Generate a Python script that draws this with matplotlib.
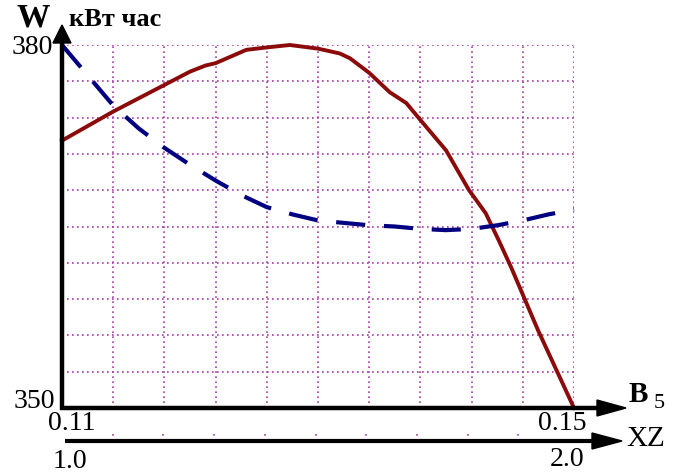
import matplotlib
matplotlib.use("Agg")
import matplotlib.pyplot as plt
from matplotlib.lines import Line2D
from matplotlib.patches import Polygon
import numpy as np

# B5 values and the two curves
b5_red = [0.1100, 0.1120, 0.1140, 0.1160, 0.1180, 0.1200, 0.1212, 0.1220, 0.1244,
          0.1260, 0.1278, 0.1300, 0.1317, 0.1325, 0.1340, 0.1356, 0.1369, 0.1380,
          0.1400, 0.1418, 0.1431, 0.1441, 0.1451, 0.1472, 0.1500]
w_red = [372.1, 373.3, 374.5, 375.6, 376.7, 377.8, 378.3, 378.5, 379.6,
         379.8, 380.0, 379.7, 379.3, 378.9, 377.7, 376.1, 375.2, 373.8,
         371.3, 368.0, 366.1, 363.9, 361.6, 356.4, 350.0]

b5_blue = [0.110, 0.112, 0.114, 0.116, 0.118, 0.120, 0.122, 0.124, 0.126, 0.128, 0.130,
           0.132, 0.134, 0.136, 0.138, 0.140, 0.142, 0.144, 0.146, 0.148, 0.150]
w_blue = [380.0, 377.5, 375.0, 373.1, 371.5, 370.1, 368.8, 367.6, 366.6, 366.0, 365.5,
          365.3, 365.1, 365.0, 364.8, 364.7, 364.8, 365.1, 365.5, 366.0, 366.4]

W, H = 673, 472
plt.rcParams['font.family'] = ['Liberation Serif', 'DejaVu Serif']

fig = plt.figure(figsize=(W / 100, H / 100), dpi=100)
x0, x1, ytop, ybot = 62, 574, 45, 408
ax = fig.add_axes([x0 / W, 1 - ybot / H, (x1 - x0) / W, (ybot - ytop) / H])
ax.set_xlim(0.11, 0.15)
ax.set_ylim(350, 380)
ax.axis('off')

grid_c = '#a83ca8'
for gx in np.linspace(0.11, 0.15, 11)[1:]:
    ax.axvline(gx, color=grid_c, lw=1.2, ls=(0, (1, 2)), zorder=1)
for gy in np.linspace(350, 380, 11)[1:]:
    ax.axhline(gy, color=grid_c, lw=1.2, ls=(0, (1, 2)), zorder=1)

ax.plot(b5_red, w_red, color='#8b0a0a', lw=2.8, zorder=3, clip_on=False)
ax.plot(b5_blue, w_blue, color='#000080', lw=3.0, ls=(0, (7, 4.5)), zorder=3, clip_on=False)


def P(x, y):
    return (x / W, 1 - y / H)


def fline(xa, ya, xb, yb, lw=3.2):
    (fx0, fy0), (fx1, fy1) = P(xa, ya), P(xb, yb)
    fig.add_artist(Line2D([fx0, fx1], [fy0, fy1], color='black', lw=lw,
                          transform=fig.transFigure, solid_capstyle='butt'))


def fhead(pts):
    fig.add_artist(Polygon([P(*p) for p in pts], closed=True, color='black',
                           transform=fig.transFigure))


# y axis with arrow
fline(62, 410, 62, 38)
fhead([(62, 25), (53, 43), (71, 43)])
# B5 axis
fline(60, 408, 600, 408)
fhead([(626, 408), (597, 400), (597, 416)])
# XZ axis
fline(65, 441, 595, 441, lw=3.0)
fhead([(622, 441), (592, 433), (592, 449)])
for k in range(1, 10):
    xt = 62 + k * (569 - 62) / 10
    fig.add_artist(Line2D([P(xt, 0)[0]] * 2, [P(0, 434)[1], P(0, 438)[1]],
                          color=grid_c, lw=1.2, ls=(0, (1, 1.5)), transform=fig.transFigure))

fs = 20
fig.text(*P(32, 47), '380', fontsize=fs, ha='center', va='center')
fig.text(*P(34, 402), '350', fontsize=fs, ha='center', va='center')
fig.text(*P(72, 423), '0.11', fontsize=fs, ha='center', va='center')
fig.text(*P(70, 461), '1.0', fontsize=fs, ha='center', va='center')
fig.text(*P(562, 424), '0.15', fontsize=fs, ha='center', va='center')
fig.text(*P(567, 459), '2.0', fontsize=fs, ha='center', va='center')
fig.text(*P(33, 18), 'W', fontsize=24, fontweight='bold', ha='center', va='center')
fig.text(*P(69, 20), 'кВт час', fontsize=19, fontweight='bold', ha='left', va='center')
fig.text(*P(629, 394), 'B', fontsize=21, fontweight='bold', ha='left', va='center')
fig.text(*P(654, 404), '5', fontsize=16, ha='left', va='center')
fig.text(*P(626, 439), 'XZ', fontsize=21, ha='left', va='center')

fig.savefig('out.png', dpi=100)
